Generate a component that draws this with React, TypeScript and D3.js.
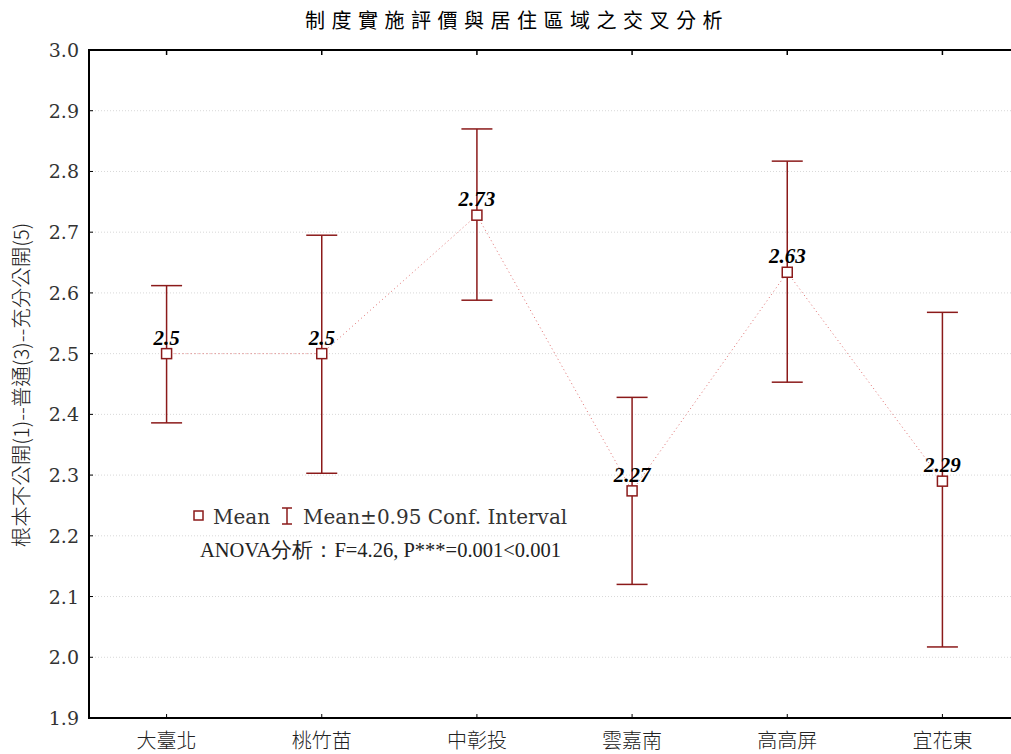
import React from "react";
import * as d3 from "d3";

const categories = ["大臺北", "桃竹苗", "中彰投", "雲嘉南", "高高屏", "宜花東"];
const means = [2.5, 2.5, 2.728, 2.274, 2.634, 2.29];
const meanLabels = ["2.5", "2.5", "2.73", "2.27", "2.63", "2.29"];
const upper = [2.612, 2.695, 2.870, 2.428, 2.817, 2.568];
const lower = [2.386, 2.303, 2.588, 2.120, 2.453, 2.017];
const yTicks = [1.9, 2.0, 2.1, 2.2, 2.3, 2.4, 2.5, 2.6, 2.7, 2.8, 2.9, 3.0];

const W = 1011, H = 754;
const left = 89, top = 50, bottom = 718, right = 1020;
const red = "#8b1a1a";
const serif = "'DejaVu Serif', serif";
const cjk = "'Noto Sans CJK TC', sans-serif";

export default function App() {
  const x = d3.scalePoint<string>().domain(categories).range([left, right]).padding(0.5);
  const y = d3.scaleLinear().domain([1.9, 3.0]).range([bottom, top]);
  const line = d3.line<number>().x((_, i) => x(categories[i])!).y((d) => y(d));
  const cap = 15.5;
  const sq = 10;
  return (
    <svg width={W} height={H} style={{ position: "absolute", left: 0, top: 0, background: "#fff" }}>
      <text x={517} y={28} textAnchor="middle" fontFamily={cjk} fontSize={20} letterSpacing={6.5} fill="#000">制度實施評價與居住區域之交叉分析</text>
      {yTicks.filter((t) => t > 1.95 && t < 2.95).map((t) => (
        <line key={"g" + t} x1={left} x2={right} y1={y(t)} y2={y(t)} stroke="#d8d8d8" strokeWidth={1} strokeDasharray="1,2" />
      ))}
      {yTicks.map((t) => (
        <g key={"t" + t}>
          <line x1={left} x2={left + 4} y1={y(t)} y2={y(t)} stroke="#000" strokeWidth={1} />
          <text x={79} y={y(t) + 7} textAnchor="end" fontFamily={serif} fontSize={19} fill="#333">{t.toFixed(1)}</text>
        </g>
      ))}
      {categories.map((c) => (
        <g key={"x" + c}>
          <line x1={x(c)} x2={x(c)} y1={top} y2={top + 5} stroke="#000" strokeWidth={1.5} />
          <line x1={x(c)} x2={x(c)} y1={bottom} y2={bottom - 4} stroke="#000" strokeWidth={1} />
          <text x={x(c)} y={748} textAnchor="middle" fontFamily={cjk} fontWeight={300} fontSize={20} fill="#222">{c}</text>
        </g>
      ))}
      <line x1={left} x2={right} y1={top} y2={top} stroke="#000" strokeWidth={2} />
      <line x1={left} x2={right} y1={bottom} y2={bottom} stroke="#000" strokeWidth={2} />
      <line x1={left} x2={left} y1={top - 1} y2={bottom + 1} stroke="#000" strokeWidth={2} />
      <text transform={`translate(29,385) rotate(-90)`} textAnchor="middle" fontFamily={cjk} fontWeight={300} fontSize={20.5} fill="#222">根本不公開(1)--普通(3)--充分公開(5)</text>
      <path d={line(means) || ""} fill="none" stroke="#e07070" strokeWidth={1} strokeDasharray="1,3" />
      {categories.map((c, i) => (
        <g key={"e" + c}>
          <line x1={x(c)} x2={x(c)} y1={y(upper[i])} y2={y(lower[i])} stroke={red} strokeWidth={1.5} />
          <line x1={x(c)! - cap} x2={x(c)! + cap} y1={y(upper[i])} y2={y(upper[i])} stroke={red} strokeWidth={1.5} />
          <line x1={x(c)! - cap} x2={x(c)! + cap} y1={y(lower[i])} y2={y(lower[i])} stroke={red} strokeWidth={1.5} />
          <rect x={x(c)! - sq / 2} y={y(means[i]) - sq / 2} width={sq} height={sq} fill="#fff" stroke={red} strokeWidth={1.5} />
          <text x={x(c)} y={y(means[i]) - 9} textAnchor="middle" fontFamily="'Liberation Serif', serif" fontStyle="italic" fontWeight="bold" fontSize={21} fill="#000">{meanLabels[i]}</text>
        </g>
      ))}
      <rect x={194} y={511} width={9} height={9} fill="#fff" stroke={red} strokeWidth={1.5} />
      <text x={213} y={524} fontFamily={serif} fontSize={20} fill="#333">Mean</text>
      <line x1={287} x2={287} y1={508} y2={524} stroke={red} strokeWidth={1.5} />
      <line x1={282} x2={292} y1={508} y2={508} stroke={red} strokeWidth={1.5} />
      <line x1={282} x2={292} y1={524} y2={524} stroke={red} strokeWidth={1.5} />
      <text x={303} y={524} fontFamily={serif} fontSize={20} fill="#333">Mean±0.95 Conf. Interval</text>
      <text x={200} y={557} fontFamily="'Liberation Serif', serif" fontSize={20.5} fill="#222">ANOVA分析：F=4.26, P***=0.001&lt;0.001</text>
    </svg>
  );
}
